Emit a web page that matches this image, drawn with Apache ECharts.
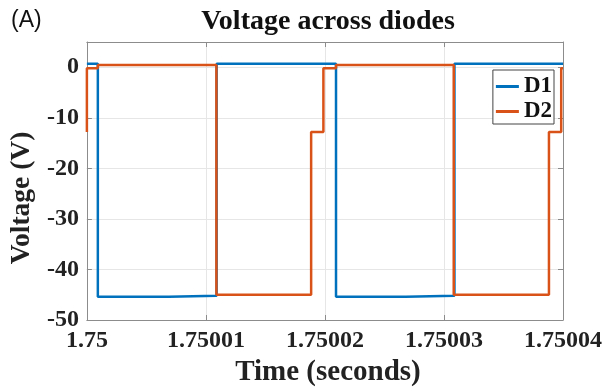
<!DOCTYPE html>
<html>
<head>
<meta charset="utf-8">
<script src="https://cdn.jsdelivr.net/npm/echarts@6/dist/echarts.min.js"></script>
<style>
  html, body { margin: 0; padding: 0; background: #fff; }
  #chart { width: 605px; height: 392px; }
</style>
</head>
<body>
<div id="chart"></div>
<script>
// time in seconds, voltage in volts
const d1Time = [1.75, 1.75000092, 1.75000092, 1.7500069, 1.7500069, 1.7500109, 1.7500109,
  1.75002093, 1.75002093, 1.7500268, 1.7500268, 1.75003088, 1.75003088, 1.75004]
const d1Volt = [0.7, 0.7, -45.4, -45.4, -45.2, -45.2, 0.7,
  0.7, -45.4, -45.4, -45.2, -45.2, 0.7, 0.7]

const d2Time = [1.75, 1.75, 1.75000092, 1.75000092, 1.75001088, 1.75001088, 1.75001884, 1.75001884,
  1.75001987, 1.75001987, 1.75002093, 1.75002093, 1.75003082, 1.75003082, 1.75003882, 1.75003882,
  1.75003985, 1.75003985, 1.75004]
const d2Volt = [-12.8, -0.2, -0.2, 0.45, 0.45, -45.0, -45.0, -12.8,
  -12.8, -0.2, -0.2, 0.45, 0.45, -45.0, -45.0, -12.8,
  -12.8, -0.2, -0.2]

const xTicks = [1.75, 1.75001, 1.75002, 1.75003, 1.75004]
const yTicks = [-50, -40, -30, -20, -10, 0]

const serif = 'Liberation Serif'
const boxColor = '#8c8c8c'

const chart = echarts.init(document.getElementById('chart'), null, { renderer: 'canvas' })

const pairs = (xs, ys) => xs.map((x, i) => [x, ys[i]])

const option = {
  animation: false,
  backgroundColor: '#fff',
  title: [
    {
      text: 'Voltage across diodes',
      left: 323,
      textAlign: 'center',
      top: 3,
      textStyle: { fontFamily: serif, fontWeight: 'bold', fontSize: 28, color: '#111' }
    },
    {
      text: '(A)',
      left: 6,
      top: 4,
      textStyle: { fontFamily: 'Liberation Sans', fontWeight: 'normal', fontSize: 23, color: '#111' }
    }
  ],
  legend: {
    right: 51,
    top: 70,
    orient: 'vertical',
    itemWidth: 23,
    itemHeight: 3,
    itemGap: 2,
    padding: [5, 2, 1, 3],
    backgroundColor: '#fff',
    borderColor: '#444',
    borderWidth: 1,
    borderRadius: 0,
    textStyle: { fontFamily: serif, fontWeight: 'bold', fontSize: 23, lineHeight: 23, color: '#111' },
    data: [{ name: 'D1', icon: 'rect' }, { name: 'D2', icon: 'rect' }]
  },
  grid: {
    left: 86,
    right: 41,
    top: 42,
    bottom: 69,
    containLabel: false
  },
  xAxis: [
    {
      type: 'value',
      min: xTicks[0],
      max: xTicks[xTicks.length - 1],
      interval: 0.00001,
      name: 'Time (seconds)',
      nameLocation: 'middle',
      nameGap: 38,
      nameTextStyle: { fontFamily: serif, fontWeight: 'bold', fontSize: 29, color: '#222', padding: [0, 0, 0, 6] },
      axisLine: { show: true, onZero: false, lineStyle: { color: boxColor } },
      axisTick: { show: true, inside: true, length: 5, lineStyle: { color: boxColor } },
      axisLabel: {
        margin: 9,
        fontFamily: serif, fontWeight: 'bold', fontSize: 24, color: '#222',
        formatter: (v) => String(Number(v.toFixed(5)))
      },
      splitLine: { show: true, lineStyle: { color: '#e6e6e6' } }
    },
    {
      type: 'value',
      position: 'top',
      min: xTicks[0],
      max: xTicks[xTicks.length - 1],
      interval: 0.00001,
      axisLine: { show: true, onZero: false, lineStyle: { color: boxColor } },
      axisTick: { show: true, inside: true, length: 5, lineStyle: { color: boxColor } },
      axisLabel: { show: false },
      splitLine: { show: false }
    }
  ],
  yAxis: [
    {
      type: 'value',
      min: -50,
      max: 5,
      interval: 10,
      name: 'Voltage (V)',
      nameLocation: 'middle',
      nameGap: 50,
      nameTextStyle: { fontFamily: serif, fontWeight: 'bold', fontSize: 27.5, color: '#222', padding: [0, 34, 0, 0] },
      axisLine: { show: true, onZero: false, lineStyle: { color: boxColor } },
      axisTick: { show: true, inside: true, length: 5, lineStyle: { color: boxColor } },
      axisLabel: {
        margin: 8,
        fontFamily: serif, fontWeight: 'bold', fontSize: 24, color: '#222',
        formatter: (v) => (yTicks.indexOf(v) >= 0 ? String(v) : '')
      },
      splitLine: { show: true, lineStyle: { color: '#e6e6e6' } }
    },
    {
      type: 'value',
      position: 'right',
      min: -50,
      max: 5,
      interval: 10,
      axisLine: { show: true, onZero: false, lineStyle: { color: boxColor } },
      axisTick: { show: true, inside: true, length: 5, lineStyle: { color: boxColor } },
      axisLabel: { show: false },
      splitLine: { show: false }
    }
  ],
  series: [
    {
      name: 'D1',
      type: 'line',
      symbol: 'none',
      data: pairs(d1Time, d1Volt),
      lineStyle: { color: '#0072BD', width: 2.5 },
      itemStyle: { color: '#0072BD' }
    },
    {
      name: 'D2',
      type: 'line',
      symbol: 'none',
      data: pairs(d2Time, d2Volt),
      lineStyle: { color: '#D95319', width: 2.5 },
      itemStyle: { color: '#D95319' }
    }
  ]
}

chart.setOption(option)
</script>
</body>
</html>
